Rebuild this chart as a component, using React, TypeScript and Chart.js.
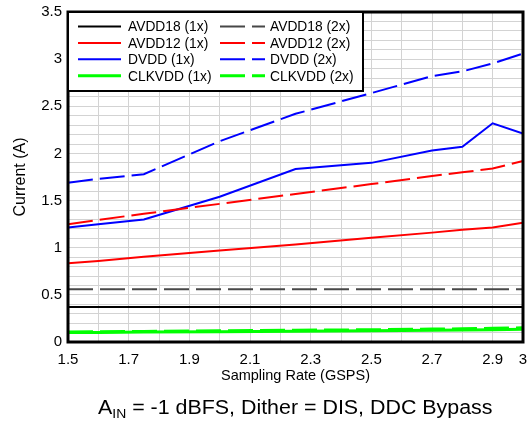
import React, { useEffect, useRef } from "react";
import { Chart, registerables } from "chart.js";

Chart.register(...registerables);

// Sampling rate (GSPS)
const samplingRate = [1.5, 1.6, 1.75, 2.0, 2.25, 2.5, 2.7, 2.8, 2.9, 3.0];

// Currents (A)
const avdd18_1x = [0.37, 0.37, 0.37, 0.37, 0.37, 0.37, 0.37, 0.37, 0.37, 0.37];
const avdd18_2x = [0.56, 0.56, 0.56, 0.56, 0.56, 0.56, 0.56, 0.56, 0.56, 0.56];
const avdd12_1x = [0.835, 0.86, 0.905, 0.97, 1.035, 1.105, 1.16, 1.19, 1.215, 1.265];
const avdd12_2x = [1.25, 1.295, 1.36, 1.465, 1.57, 1.675, 1.76, 1.8, 1.84, 1.92];
const dvdd_1x = [1.215, 1.25, 1.3, 1.54, 1.835, 1.9, 2.03, 2.07, 2.32, 2.21];
const dvdd_2x = [1.69, 1.73, 1.78, 2.13, 2.42, 2.64, 2.82, 2.87, 2.955, 3.06];
const clkvdd_1x = [0.1, 0.102, 0.105, 0.11, 0.115, 0.12, 0.125, 0.127, 0.13, 0.135];
const clkvdd_2x = [0.105, 0.108, 0.112, 0.12, 0.125, 0.13, 0.137, 0.14, 0.145, 0.15];

const seriesLabels = [
  "AVDD18 (1x)", "AVDD18 (2x)",
  "AVDD12 (1x)", "AVDD12 (2x)",
  "DVDD (1x)", "DVDD (2x)",
  "CLKVDD (1x)", "CLKVDD (2x)",
];

const xAxisTitle = "Sampling Rate (GSPS)";
const yAxisTitle = "Current (A)";

const FONT = '"Liberation Sans", Arial, Helvetica, sans-serif';
const DASH = [25, 7];

const toPoints = (ys: number[]) => samplingRate.map((x, i) => ({ x, y: ys[i] }));

const framePlugin = {
  id: "frameAndLegend",
  afterDatasetsDraw(chart: any) {
    const { ctx, chartArea: a } = chart;
    ctx.save();
    ctx.strokeStyle = "#000";
    ctx.lineWidth = 3;
    ctx.strokeRect(a.left, a.top, a.right - a.left, a.bottom - a.top);

    // legend box
    const bx = a.left;
    const by = a.top;
    const bw = 295;
    const bh = 79;
    ctx.fillStyle = "#fff";
    ctx.fillRect(bx, by, bw, bh);
    ctx.lineWidth = 2;
    ctx.strokeStyle = "#000";
    ctx.strokeRect(bx, by, bw, bh);

    ctx.font = `13.8px ${FONT}`;
    ctx.textBaseline = "middle";
    ctx.textAlign = "left";
    const ds = chart.data.datasets;
    for (let i = 0; i < ds.length; i++) {
      const row = Math.floor(i / 2);
      const col = i % 2;
      const y = by + 14.5 + row * 16.4;
      const lx0 = bx + (col === 0 ? 10 : 152);
      const lx1 = bx + (col === 0 ? 53 : 197);
      const tx = bx + (col === 0 ? 60 : 202);
      const d = ds[i];
      ctx.beginPath();
      ctx.setLineDash(d.borderDash || []);
      ctx.lineDashOffset = 0;
      ctx.strokeStyle = d.borderColor;
      ctx.lineWidth = d.borderWidth;
      ctx.moveTo(lx0, y);
      ctx.lineTo(lx1, y);
      ctx.stroke();
      ctx.setLineDash([]);
      ctx.fillStyle = "#000";
      ctx.fillText(d.label, tx, y + 1);
    }
    ctx.restore();
  },
};

export default function App() {
  const canvasRef = useRef<HTMLCanvasElement | null>(null);

  useEffect(() => {
    document.body.style.margin = "0";
    const canvas = canvasRef.current;
    if (!canvas) return;
    const mk = (label: string, data: number[], color: string, dashed: boolean, width: number) => ({
      label,
      data: toPoints(data),
      borderColor: color,
      backgroundColor: color,
      borderWidth: width,
      borderDash: dashed ? DASH : [],
      pointRadius: 0,
      tension: 0,
      fill: false,
    });
    const chart = new Chart(canvas, {
      type: "line",
      data: {
        datasets: [
          mk(seriesLabels[0], avdd18_1x, "#000000", false, 2),
          mk(seriesLabels[1], avdd18_2x, "#474747", true, 2),
          mk(seriesLabels[2], avdd12_1x, "#ff0000", false, 2),
          mk(seriesLabels[3], avdd12_2x, "#ff0000", true, 2),
          mk(seriesLabels[4], dvdd_1x, "#0000ff", false, 2),
          mk(seriesLabels[5], dvdd_2x, "#0000ff", true, 2),
          mk(seriesLabels[6], clkvdd_1x, "#00ff00", false, 3),
          mk(seriesLabels[7], clkvdd_2x, "#00ff00", true, 3),
        ],
      },
      options: {
        animation: false,
        responsive: false,
        devicePixelRatio: 1,
        layout: { padding: { top: 12, right: 8, left: 0, bottom: 0 } },
        plugins: {
          legend: { display: false },
          tooltip: { enabled: false },
        },
        scales: {
          x: {
            type: "linear",
            min: 1.5,
            max: 3.0,
            afterFit: (s: any) => {
              s.height = 81;
              s.paddingLeft = 0;
              s.paddingRight = 0;
            },
            ticks: {
              stepSize: 0.1,
              autoSkip: false,
              maxRotation: 0,
              padding: 9,
              color: "#000",
              font: { family: FONT, size: 15 },
              callback: (v: any) => {
                const r = Math.round(Number(v) * 10);
                return (r - 15) % 2 === 0 || r === 30 ? String(r / 10) : "";
              },
            },
            grid: { color: "#d3d3d3", lineWidth: 1, drawTicks: false },
            border: { display: false },
            title: {
              display: true,
              text: xAxisTitle,
              color: "#000",
              font: { family: FONT, size: 14.5 },
              padding: { top: 4, bottom: 38 },
            },
          },
          y: {
            type: "linear",
            min: 0,
            max: 3.5,
            afterFit: (s: any) => {
              s.width = 68;
              s.paddingTop = 0;
              s.paddingBottom = 0;
            },
            ticks: {
              stepSize: 0.1,
              autoSkip: false,
              padding: 6,
              color: "#000",
              font: { family: FONT, size: 15 },
              callback: (v: any) => {
                const r = Math.round(Number(v) * 10);
                return r % 5 === 0 ? String(r / 10) : "";
              },
            },
            grid: { color: "#d3d3d3", lineWidth: 1, drawTicks: false },
            border: { display: false },
            title: {
              display: true,
              text: yAxisTitle,
              color: "#000",
              font: { family: FONT, size: 16 },
              padding: { top: 11, bottom: 4 },
            },
          },
        },
      },
      plugins: [framePlugin],
    } as any);
    return () => chart.destroy();
  }, []);

  return (
    <div style={{ position: "fixed", left: 0, top: 0, width: 531, height: 423, background: "#fff" }}>
      <canvas ref={canvasRef} width={531} height={423} style={{ display: "block", width: 531, height: 423 }} />
      <div
        style={{
          position: "absolute",
          left: 98,
          top: 397,
          fontFamily: FONT,
          fontSize: 20,
          lineHeight: "20px",
          whiteSpace: "nowrap",
          color: "#000",
          transform: "scaleX(1.07)",
          transformOrigin: "left top",
        }}
      >
        A<span style={{ fontSize: 13, position: "relative", top: 4 }}>IN</span> = -1 dBFS, Dither = DIS, DDC Bypass
      </div>
    </div>
  );
}
